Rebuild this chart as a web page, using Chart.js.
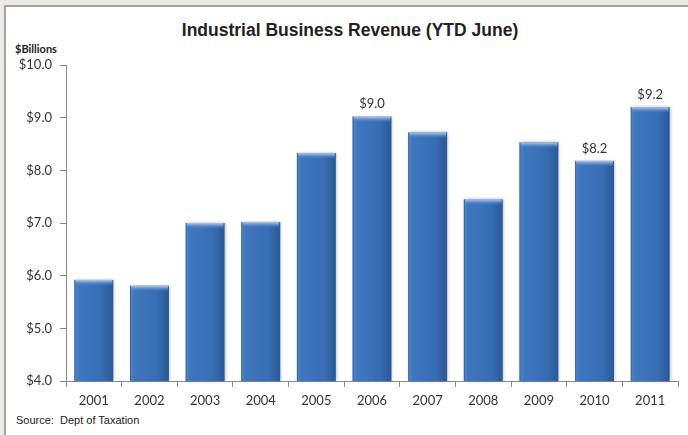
<!DOCTYPE html>
<html>
<head>
<meta charset="utf-8">
<script src="https://cdn.jsdelivr.net/npm/chart.js@4/dist/chart.umd.min.js"></script>
<style>
  html, body { margin: 0; padding: 0; background: #ece9e4; }
  #wrap { position: relative; width: 688px; height: 435px; overflow: hidden; }
  #box { position: absolute; left: 4px; top: 5px; width: 700px; height: 440px; background: #fff;
         border-left: 2px solid #a2a2a2; border-top: 2px solid #a2a2a2; box-sizing: border-box; }
  #title { position: absolute; left: 0; width: 700px; top: 20px; text-align: center;
           font: bold 17.5px "Liberation Sans", Arial, sans-serif; color: #222; }
  #unit { position: absolute; left: 15px; top: 42px; font: bold 11px Lato, sans-serif; color: #222; }
  #source { position: absolute; left: 16px; top: 414px; font: 11px "Liberation Sans", Arial, sans-serif; color: #222; }
  canvas { position: absolute; left: 0; top: 0; }
</style>
</head>
<body>
<div id="wrap">
  <div id="box"></div>
  <div id="title">Industrial Business Revenue (YTD June)</div>
  <div id="unit">$Billions</div>
  <div id="source">Source:&nbsp; Dept of Taxation</div>
  <canvas id="c" width="688" height="435"></canvas>
</div>
<script>
// chart data
const years = ['2001', '2002', '2003', '2004', '2005', '2006', '2007', '2008', '2009', '2010', '2011'];
const revenue = [5.92, 5.81, 7.0, 7.02, 8.33, 9.02, 8.72, 7.45, 8.53, 8.18, 9.2];
const labeledYears = ['2006', '2010', '2011'];
const yMin = 4, yMax = 10, yStep = 1;

const money = v => '$' + Number(v).toFixed(1);

// bevelled bars + value labels, drawn over the library's bar elements
const barLook = {
    id: 'barLook',
    afterDatasetsDraw(chart) {
        const ctx = chart.ctx;
        const bottom = chart.chartArea.bottom;
        const meta = chart.getDatasetMeta(0);
        meta.data.forEach((bar, i) => {
            const { x, y, base, width } = bar.getProps(['x', 'y', 'base', 'width'], true);
            const l = x - width / 2, h = Math.min(base, bottom) - y;
            ctx.save();
            ctx.shadowColor = 'rgba(0,0,0,0.28)';
            ctx.shadowBlur = 3;
            ctx.shadowOffsetX = 1;
            ctx.shadowOffsetY = 0;
            const g = ctx.createLinearGradient(l, 0, l + width, 0);
            g.addColorStop(0, '#4f86cc');
            g.addColorStop(0.12, '#3f77be');
            g.addColorStop(0.7, '#386db4');
            g.addColorStop(1, '#2a5895');
            ctx.fillStyle = g;
            ctx.fillRect(l, y, width, h);
            ctx.restore();
            // top bevel
            const tg = ctx.createLinearGradient(0, y, 0, y + 6);
            tg.addColorStop(0, '#a9c8f0');
            tg.addColorStop(0.35, '#6d9cdc');
            tg.addColorStop(1, 'rgba(60,114,186,0)');
            ctx.fillStyle = tg;
            ctx.fillRect(l + 1, y, width - 2, 6);
            ctx.fillStyle = 'rgba(30,70,130,0.5)';
            ctx.fillRect(l, y, 1, h);

            if (labeledYears.includes(years[i])) {
                ctx.fillStyle = '#333';
                ctx.font = '13px Lato, sans-serif';
                ctx.textAlign = 'center';
                ctx.textBaseline = 'bottom';
                ctx.fillText(money(revenue[i]), x, y - 6);
            }
        });
    }
};

new Chart(document.getElementById('c'), {
    type: 'bar',
    data: {
        labels: years,
        datasets: [{ data: revenue, backgroundColor: 'rgba(0,0,0,0)', categoryPercentage: 1, barPercentage: 0.7 }]
    },
    options: {
        responsive: false,
        animation: false,
        layout: { padding: { top: 65, left: 0, right: 10, bottom: 24 } },
        plugins: { legend: { display: false }, tooltip: { enabled: false }, title: { display: false } },
        scales: {
            x: {
                grid: { offset: true, drawOnChartArea: false, drawTicks: true, tickLength: 6, color: '#888' },
                border: { display: true, color: '#888' },
                ticks: { color: '#333', font: { family: 'Lato', size: 13 }, padding: 6 },
                afterFit: s => { s.height = 30; }
            },
            y: {
                min: yMin, max: yMax,
                grid: { drawOnChartArea: false, drawTicks: true, tickLength: 6, color: '#888' },
                border: { display: true, color: '#888' },
                ticks: { stepSize: yStep, color: '#333', font: { family: 'Lato', size: 13 }, padding: 8, callback: money },
                afterFit: s => { s.width = 66; }
            }
        }
    },
    plugins: [barLook]
});
</script>
</body>
</html>
